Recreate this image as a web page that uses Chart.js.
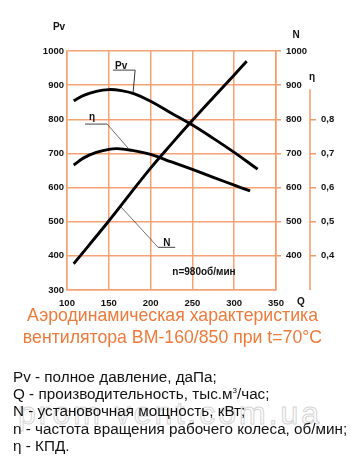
<!DOCTYPE html>
<html><head><meta charset="utf-8">
<script src="https://cdn.jsdelivr.net/npm/chart.js@4/dist/chart.umd.min.js"></script>
<style>
html,body{margin:0;padding:0;background:#fff;width:356px;height:473px;overflow:hidden;font-family:"Liberation Sans",Arial,sans-serif;}
#wrap{position:absolute;left:0;top:0;width:356px;height:310px;}
#title{position:absolute;left:0;top:305px;width:345px;text-align:center;color:#ef7a3a;font-size:17.7px;line-height:21.7px;white-space:nowrap;}
#wm{position:absolute;left:18px;top:396px;font-size:32px;line-height:34px;color:transparent;-webkit-text-stroke:1px #d4d4d4;letter-spacing:3px;white-space:nowrap;}
#legend{position:absolute;left:13px;top:368px;font-size:15.25px;line-height:17.2px;color:#111;white-space:nowrap;}
#legend sup{font-size:8px;line-height:0;vertical-align:6px;}
</style></head>
<body>
<div id="wrap"><canvas id="c" width="356" height="310"></canvas></div>
<div id="title">Аэродинамическая характеристика<br>вентилятора ВМ-160/850 при t=70°C</div>
<div id="wm">prom vent.com.ua</div>
<div id="legend">Pv - полное давление, даПа;<br>Q - производительность, тыс.м<sup>3</sup>/час;<br>N - установочная мощность, кВт;<br>n - частота вращения рабочего колеса, об/мин;<br>η - КПД.</div>
<script>
// ---- data ----
const pvQ   = [108, 120, 135, 150, 165, 180, 200, 225, 250, 275, 300, 328];
const pvVal = [854, 870, 882, 887, 884, 875, 853, 818, 783, 744, 703, 654];
const etaQ   = [108, 120, 135, 150, 160, 175, 200, 225, 250, 275, 300, 319];
const etaVal = [0.666, 0.687, 0.703, 0.712, 0.714, 0.710, 0.697, 0.675, 0.653, 0.630, 0.607, 0.590];
const nQ   = [108, 150, 175, 200, 225, 250, 275, 300, 315];
const nVal = [377, 502, 580, 657, 728, 797, 864, 930, 970];
const qTicks   = [100, 150, 200, 250, 300, 350];
const pvTicks  = [300, 400, 500, 600, 700, 800, 900, 1000];
const nTicks   = [400, 500, 600, 700, 800, 900, 1000];
const etaTicks = [0.4, 0.5, 0.6, 0.7, 0.8];
const etaTickLabels = ['0,4', '0,5', '0,6', '0,7', '0,8'];

const ORANGE = '#f5a274';
const AXIS_ORANGE = '#f39a66';
const FONT = '"Liberation Sans", Arial, sans-serif';
const tickFont = {family: FONT, size: 9.5, weight: 'bold'};

const pts = (xs, ys) => xs.map((q, i) => ({x: q, y: ys[i]}));
const plain = (v) => String(v);

const annot = {
  id: 'annot',
  afterDatasetsDraw(chart) {
    const {ctx, chartArea: a, scales: {x, y, yN, yEta}} = chart;
    const P = (q, v) => [x.getPixelForValue(q), y.getPixelForValue(v)];
    ctx.save();
    // eta axis line
    ctx.strokeStyle = AXIS_ORANGE; ctx.lineWidth = 1.5;
    ctx.beginPath();
    ctx.moveTo(yEta.left, yEta.getPixelForValue(0.888));
    ctx.lineTo(yEta.left, a.bottom);
    ctx.stroke();
    // leaders
    const leader = (u1, u2, tip, w) => {
      ctx.strokeStyle = '#444'; ctx.lineWidth = 1;
      ctx.beginPath(); ctx.moveTo(...P(...u1)); ctx.lineTo(...P(...u2)); ctx.stroke();
      ctx.lineWidth = w; ctx.strokeStyle = '#333';
      ctx.beginPath(); ctx.moveTo(...P(...tip[0])); ctx.lineTo(...P(...tip[1])); ctx.stroke();
    };
    leader([155, 944], [181.5, 944], [[181.5, 944], [179, 876.5]], 1);
    leader([121.6, 786], [148, 786], [[148, 786], [173, 715.6]], 0.7);
    leader([209, 425], [229.5, 425], [[209, 425], [164.4, 543.8]], 0.7);
    // labels
    ctx.fillStyle = '#111';
    ctx.font = 'bold 10px ' + FONT;
    ctx.textAlign = 'left'; ctx.textBaseline = 'alphabetic';
    ctx.fillText('Pv', ...P(157.5, 947));
    ctx.fillText('η', ...P(126.4, 797.5));
    ctx.fillText('N', ...P(215, 428.8));
    ctx.fillText('n=980об/мин', ...P(226, 344));
    // axis titles
    ctx.textAlign = 'center'; ctx.textBaseline = 'middle';
    ctx.fillText('Pv', a.left - 8, a.top - 24);
    ctx.fillText('N', yN.left + 20, a.top - 16);
    ctx.fillText('η', yEta.left + 2, a.top + 26);
    ctx.fillText('Q', yN.left + 25, a.bottom + 12);
    ctx.restore();
  }
};

const lineDs = (label, data, axis) => ({
  label, data, yAxisID: axis, borderColor: '#000', borderWidth: 2.9,
  pointRadius: 0, fill: false, tension: 0.4, borderCapStyle: 'butt'
});

new Chart(document.getElementById('c'), {
  type: 'line',
  data: {datasets: [
    lineDs('Pv', pts(pvQ, pvVal), 'y'),
    lineDs('η', pts(etaQ, etaVal), 'yEta'),
    lineDs('N', pts(nQ, nVal), 'yN')
  ]},
  options: {
    responsive: false, animation: false,
    layout: {padding: {top: 51, left: 0, right: 0, bottom: 0}},
    plugins: {legend: {display: false}, tooltip: {enabled: false}},
    scales: {
      x: {
        type: 'linear', min: 100, max: 350,
        afterBuildTicks(s) { s.ticks = qTicks.map(v => ({value: v})); },
        ticks: {padding: 8, font: tickFont, color: '#111', maxRotation: 0, autoSkip: false, callback: plain},
        grid: {color: ORANGE, lineWidth: 1.5, drawTicks: false},
        border: {color: ORANGE, width: 1.5},
        afterFit(s) { s.height = 20; }
      },
      y: {
        position: 'left', min: 300, max: 1000,
        afterBuildTicks(s) { s.ticks = pvTicks.map(v => ({value: v})); },
        ticks: {padding: 3, font: tickFont, color: '#111', autoSkip: false, callback: plain},
        grid: {color: ORANGE, lineWidth: 1.5, drawTicks: false},
        border: {color: ORANGE, width: 1.5},
        afterFit(s) { s.width = 67; }
      },
      yN: {
        position: 'right', min: 300, max: 1000,
        afterBuildTicks(s) { s.ticks = nTicks.map(v => ({value: v})); },
        ticks: {padding: 5, font: tickFont, color: '#111', autoSkip: false, callback: plain},
        grid: {drawOnChartArea: false, color: AXIS_ORANGE, tickLength: 5, lineWidth: 1.5},
        border: {color: AXIS_ORANGE, width: 1.5},
        afterFit(s) { s.width = 34; }
      },
      yEta: {
        position: 'right', min: 0.3, max: 1.0,
        afterBuildTicks(s) { s.ticks = etaTicks.map(v => ({value: v})); },
        ticks: {padding: 5, font: tickFont, color: '#111', autoSkip: false,
          callback: (v) => { const i = etaTicks.findIndex(t => Math.abs(t - v) < 1e-6); return i >= 0 ? etaTickLabels[i] : ''; }},
        grid: {drawOnChartArea: false, color: AXIS_ORANGE, tickLength: 6, lineWidth: 1.5},
        border: {display: false},
        afterFit(s) { s.width = 46; }
      }
    }
  },
  plugins: [annot]
});
</script>
</body></html>
